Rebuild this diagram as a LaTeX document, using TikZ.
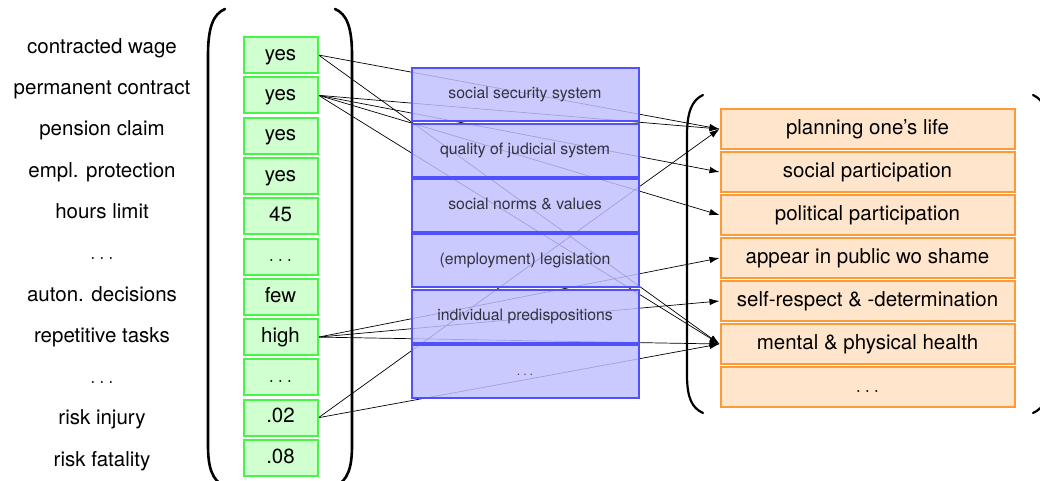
\documentclass[tikz,border=0pt]{standalone}
\usepackage{fontspec}
\setmainfont{TeX Gyre Heros}
\usetikzlibrary{arrows.meta,backgrounds}
\definecolor{gedge}{RGB}{70,245,70}
\definecolor{gfill}{RGB}{208,255,208}
\definecolor{bedge}{RGB}{80,80,255}
\definecolor{bfill}{RGB}{192,192,255}
\definecolor{oedge}{RGB}{255,155,55}
\definecolor{ofill}{RGB}{255,229,204}
\definecolor{btext}{RGB}{50,50,60}
\begin{document}
\begin{tikzpicture}[x=1pt,y=-1pt,
  big/.style={font=\fontsize{20.5}{24}\selectfont, text height=15pt, text depth=4.5pt, inner sep=0pt},
  lbl/.style={big},
  gcell/.style={big, draw=gedge, fill=gfill, line width=2pt, minimum width=74pt, minimum height=36pt},
  bcell/.style={draw=bedge, fill=bfill, fill opacity=0.84, text opacity=1, text=btext, line width=2pt,
     minimum width=227pt, minimum height=53pt, inner sep=0pt,
     font=\fontsize{15.8}{18}\selectfont, text height=11.5pt, text depth=3.5pt},
  ocell/.style={big, draw=oedge, fill=ofill, line width=2pt, minimum width=294pt, minimum height=40pt},
  conn/.style={draw=black, line width=0.7pt, -{Latex[length=10pt,width=6.5pt]}},
  paren/.style={draw=black, line width=2.6pt, line cap=round},
  oparen/.style={draw=black, line width=2.2pt, line cap=round}]
\useasboundingbox (0,0) rectangle (1040,481);

% left labels
\node[lbl] (l0) at (102,48.0) {contracted wage};
\node[lbl] (l1) at (102,89.3) {permanent contract};
\node[lbl] (l2) at (102,130.6) {pension claim};
\node[lbl] (l3) at (102,171.9) {empl. protection};
\node[lbl] (l4) at (102,213.2) {hours limit};
\node[lbl] (l5) at (102,254.5) {$\ldots$};
\node[lbl] (l6) at (102,295.8) {auton. decisions};
\node[lbl] (l7) at (102,337.1) {repetitive tasks};
\node[lbl] (l8) at (102,378.4) {$\ldots$};
\node[lbl] (l9) at (102,419.7) {risk injury};
\node[lbl] (l10) at (102,461.0) {risk fatality};

% green cells
\node[gcell] (g0) at (280.5,55.0) {yes};
\node[gcell] (g1) at (280.5,95.3) {yes};
\node[gcell] (g2) at (280.5,135.6) {yes};
\node[gcell] (g3) at (280.5,175.9) {yes};
\node[gcell] (g4) at (280.5,216.2) {45};
\node[gcell] (g5) at (280.5,256.5) {$\ldots$};
\node[gcell] (g6) at (280.5,296.8) {few};
\node[gcell] (g7) at (280.5,337.1) {high};
\node[gcell] (g8) at (280.5,377.4) {$\ldots$};
\node[gcell] (g9) at (280.5,417.7) {.02};
\node[gcell] (g10) at (280.5,458.0) {.08};

% blue cells
\node[bcell] (b0) at (525,95.0) {social security system};
\node[bcell] (b1) at (525,150.3) {quality of judicial system};
\node[bcell] (b2) at (525,205.6) {social norms \& values};
\node[bcell] (b3) at (525,260.9) {(employment) legislation};
\node[bcell] (b4) at (525,316.2) {individual predispositions};
\node[bcell] (b5) at (525,371.5) {$\ldots$};

% orange cells
\node[ocell] (o0) at (867.5,129) {planning one’s life};
\node[ocell] (o1) at (867.5,172) {social participation};
\node[ocell] (o2) at (867.5,215) {political participation};
\node[ocell] (o3) at (867.5,258) {appear in public wo shame};
\node[ocell] (o4) at (867.5,301) {self-respect \& -determination};
\node[ocell] (o5) at (867.5,344) {mental \& physical health};
\node[ocell] (o6) at (867.5,387) {$\ldots$};

% connectors
\begin{scope}[on background layer]
\draw[conn] (g0.east) -- (o0.west);
\draw[conn] (g0.east) -- (o5.west);
\draw[conn] (g1.east) -- (o0.west);
\draw[conn] (g1.east) -- (o1.west);
\draw[conn] (g1.east) -- (o2.west);
\draw[conn] (g1.east) -- (o5.west);
\draw[conn] (g7.east) -- (o3.west);
\draw[conn] (g7.east) -- (o4.west);
\draw[conn] (g7.east) -- (o5.west);
\draw[conn] (g9.east) -- (o0.west);
\draw[conn] (g9.east) -- (o5.west);
\end{scope}

% parentheses around green column
\draw[paren] (225,9) .. controls (213,14) and (208,28) .. (208,55) -- (208,445)
  .. controls (208,468) and (212,480) .. (225,487);
\draw[paren] (335,9) .. controls (347,14) and (352,28) .. (352,55) -- (352,445)
  .. controls (352,468) and (348,480) .. (335,487);
% parentheses around orange column
\draw[oparen] (703,95) .. controls (692,100) and (687,112) .. (687,135) -- (687,375)
  .. controls (687,398) and (692,408) .. (703,413);
\draw[oparen] (1033,95) .. controls (1044,100) and (1049,112) .. (1049,135) -- (1049,375)
  .. controls (1049,398) and (1044,408) .. (1033,413);
\end{tikzpicture}
\end{document}
